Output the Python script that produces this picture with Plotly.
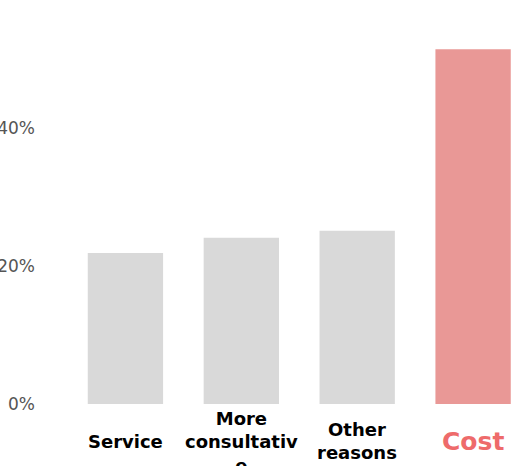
import plotly.graph_objects as go

categories = ["Service", "More consultative", "Other reasons", "Cost"]
category_labels = ["Service", "More<br>consultativ<br>e", "Other<br>reasons", "Cost"]
values = [0.219, 0.241, 0.251, 0.514]
tick_vals = [0, 0.2, 0.4]
tick_text = ["0%", "20%", "40%"]

bar_colors = ["#D9D9D9", "#D9D9D9", "#D9D9D9", "#E99896"]
label_colors = ["#000000", "#000000", "#000000", "#EE6B6B"]
label_sizes = [18, 18, 18, 25]
label_shifts = [-37, -38, -37, -37]

fig = go.Figure(go.Bar(
    x=categories, y=values, marker=dict(color=bar_colors, line=dict(width=0)),
    width=0.65, hoverinfo="skip",
))

for cat, lab, col, sz, sh in zip(categories, category_labels, label_colors, label_sizes, label_shifts):
    fig.add_annotation(
        x=cat, xref="x", y=0, yref="paper", yshift=sh, yanchor="middle",
        text=f"<b>{lab}</b>", showarrow=False,
        font=dict(family="DejaVu Sans, sans-serif", size=sz, color=col),
        align="center",
    )

fig.update_layout(
    width=514, height=466,
    margin=dict(l=45, r=0, t=0, b=62),
    paper_bgcolor="white", plot_bgcolor="white",
    showlegend=False,
    xaxis=dict(range=[-0.694, 3.353], showticklabels=False, showgrid=False,
               zeroline=False, showline=False, ticks="", automargin=False),
    yaxis=dict(range=[0, 0.5855], tickvals=tick_vals, ticktext=tick_text,
               showgrid=False, zeroline=False, showline=False, ticks="",
               tickfont=dict(family="DejaVu Sans, sans-serif", size=17, color="#555555"),
               ticklabelstandoff=9, automargin=False),
)

fig.write_html("out.html", config={"displayModeBar": False},
               post_script="document.body.style.margin='0';document.body.style.overflow='hidden';")
